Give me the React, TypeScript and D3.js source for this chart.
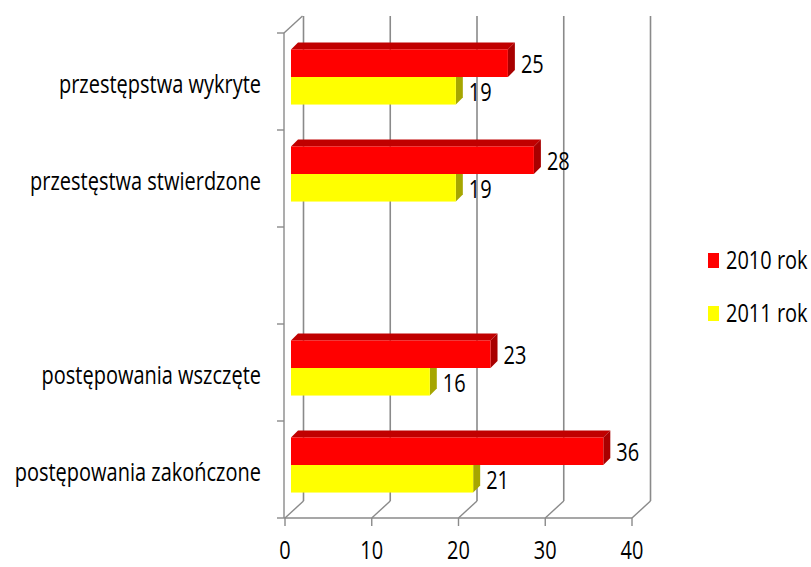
import React from 'react';
import * as d3 from 'd3';

const categories = ['przestępstwa wykryte', 'przestęstwa stwierdzone', '', 'postępowania wszczęte', 'postępowania zakończone'];
const values2010: (number | null)[] = [25, 28, null, 23, 36];
const values2011: (number | null)[] = [19, 19, null, 16, 21];
const seriesNames = ['2010 rok', '2011 rok'];
const xTicks = [0, 10, 20, 30, 40];

const W = 811;
const H = 567;
const FONT = "'Open Sans', Lato, sans-serif";
const FS = 20;
const SY = 1.26; // the original text is stretched vertically
const GRID = '#8a8a8a';

// 3d offsets: back wall, bar plane, bar depth
const back = { dx: 18.5, dy: -17 };
const plane = { dx: 6, dy: -4.5 };
const depth = { dx: 7, dy: -7 };

const colors = [
  { front: '#ff0000', top: '#c00000', side: '#a80000' },
  { front: '#ffff00', top: '#c0c000', side: '#a6a600' },
];

const pts = (p: [number, number][]) => p.map(d => d.join(',')).join(' ');

const T = ({ x, y, anchor = 'start', children }: { x: number; y: number; anchor?: string; children: React.ReactNode }) => (
  <text transform={`translate(${x},${y}) scale(1,${SY})`} textAnchor={anchor} fontSize={FS} fill="#000">{children}</text>
);

const Bar = ({ x0, x1, y0, h, c }: { x0: number; x1: number; y0: number; h: number; c: typeof colors[0] }) => (
  <g>
    <polygon points={pts([[x0, y0], [x0 + depth.dx, y0 + depth.dy], [x1 + depth.dx, y0 + depth.dy], [x1, y0]])} fill={c.top} />
    <polygon points={pts([[x1, y0], [x1 + depth.dx, y0 + depth.dy], [x1 + depth.dx, y0 + h + depth.dy], [x1, y0 + h]])} fill={c.side} />
    <rect x={x0} y={y0} width={x1 - x0} height={h} fill={c.front} />
  </g>
);

export default function App() {
  const x = d3.scaleLinear().domain([0, 40]).range([285, 632]);
  const y = d3.scaleBand<string>().domain(categories).range([33, 518]);
  const bw = y.bandwidth();
  const barH = bw * 0.284;
  const [top, bottom] = y.range();
  const left = 284;

  const boundaries = d3.range(categories.length + 1).map(i => top + i * bw);

  return (
    <svg width={W} height={H} style={{ position: 'absolute', left: 0, top: 0, background: '#fff' }} fontFamily={FONT}>
      {/* back wall gridlines */}
      {xTicks.map(t => (
        <line key={'g' + t} x1={x(t) + back.dx} x2={x(t) + back.dx} y1={top + back.dy} y2={bottom + back.dy} stroke={GRID} strokeWidth={1.6} />
      ))}
      {/* floor diagonals */}
      {xTicks.map(t => (
        <line key={'f' + t} x1={x(t)} x2={x(t) + back.dx} y1={bottom} y2={bottom + back.dy} stroke={GRID} strokeWidth={1.4} />
      ))}
      {/* left wall */}
      <line x1={left} x2={left} y1={top} y2={bottom} stroke={GRID} strokeWidth={1.4} />
      <line x1={left} x2={left + back.dx} y1={top} y2={top + back.dy} stroke={GRID} strokeWidth={1.4} />
      {boundaries.map((b, i) => (
        <line key={'ct' + i} x1={left - 7} x2={left} y1={b} y2={b} stroke={GRID} strokeWidth={1.4} />
      ))}
      {/* front axis */}
      <line x1={left} x2={x(40)} y1={bottom} y2={bottom} stroke={GRID} strokeWidth={1.4} />
      {xTicks.map(t => (
        <g key={'t' + t}>
          <line x1={x(t)} x2={x(t)} y1={bottom} y2={bottom + 8} stroke={GRID} strokeWidth={1.4} />
          <T x={x(t)} y={559} anchor="middle">{t}</T>
        </g>
      ))}

      {/* bars */}
      {categories.map((c, i) => {
        const cy = (y(c) as number) + bw / 2 + plane.dy;
        const bx = (v: number) => x(v) + plane.dx;
        const v10 = values2010[i];
        const v11 = values2011[i];
        return (
          <g key={'b' + i}>
            {v11 != null && (
              <>
                <Bar x0={bx(0)} x1={bx(v11)} y0={cy} h={barH} c={colors[1]} />
                <T x={bx(v11) + 13} y={cy + barH / 2 + 10}>{v11}</T>
              </>
            )}
            {v10 != null && (
              <>
                <Bar x0={bx(0)} x1={bx(v10)} y0={cy - barH} h={barH} c={colors[0]} />
                <T x={bx(v10) + 13} y={cy - barH / 2 + 10}>{v10}</T>
              </>
            )}
          </g>
        );
      })}

      {/* category labels */}
      {categories.map((c, i) => (
        <T key={'l' + i} x={261} y={(y(c) as number) + bw / 2 + 11} anchor="end">{c}</T>
      ))}

      {/* legend */}
      {seriesNames.map((s, i) => (
        <g key={s} transform={`translate(708,${253 + i * 53})`}>
          <rect x={0} y={0} width={11} height={15} fill={colors[i].front} />
          <T x={18} y={16}>{s}</T>
        </g>
      ))}
    </svg>
  );
}
